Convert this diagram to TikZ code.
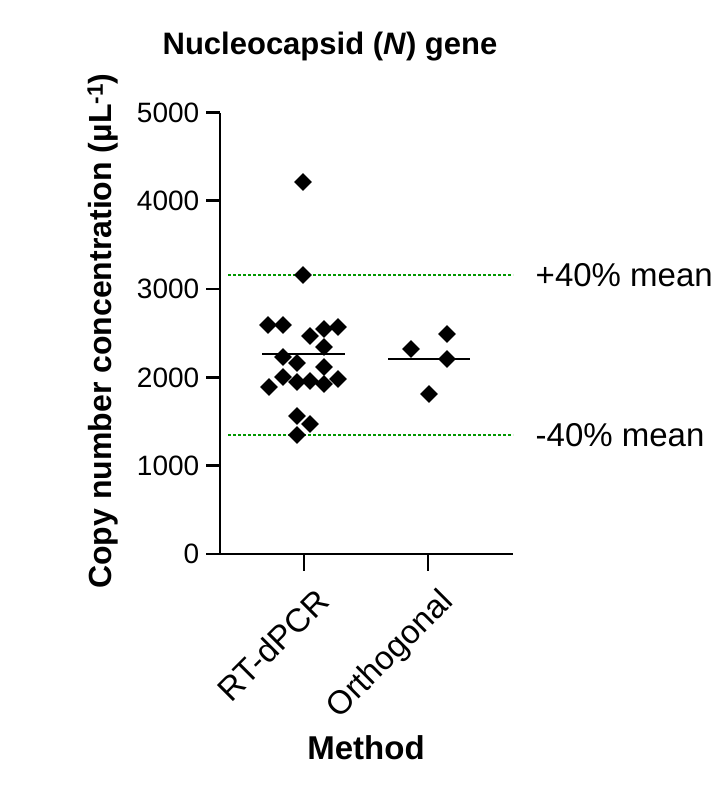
\documentclass[tikz,border=0pt]{standalone}
\usepackage{fontspec}
\setmainfont{Liberation Sans}
\usetikzlibrary{shapes.geometric}
\tikzset{
  pt/.style={diamond, fill=black, inner sep=0pt, minimum size=19pt},
  guide/.style={draw=green!60!black, dash pattern=on 2.5pt off 2.5pt, line width=1.8pt},
  ticklab/.style={anchor=east, font=\fontsize{28}{30}\selectfont},
  catlab/.style={anchor=north east, rotate=45, font=\fontsize{33}{36}\selectfont},
  biglab/.style={font=\fontsize{33}{36}\selectfont},
}
\begin{document}
\begin{tikzpicture}[x=1pt, y=-1pt, line width=2.8pt]
  \useasboundingbox (0,0) rectangle (727,794);
  % Title and axis labels
  \node[font=\bfseries\fontsize{31}{34}\selectfont] (title) at (330,47) {Nucleocapsid (\textit{N}) gene};
  \node[rotate=90, font=\bfseries\fontsize{32}{34}\selectfont] (ylab) at (103,331) {Copy number concentration (µL\textsuperscript{-1})};
  \node[font=\bfseries\fontsize{33}{36}\selectfont] (xlab) at (366,748) {Method};

  % Guide lines
  \coordinate (hiA) at (228,275); \coordinate (hiB) at (513,275);
  \coordinate (loA) at (228,435); \coordinate (loB) at (513,435);
  \draw[guide] (hiA) -- (hiB);
  \draw[guide] (loA) -- (loB);
  \node[anchor=west, biglab] (hilab) at (531,275) {+40\% mean};
  \node[anchor=west, biglab] (lolab) at (531,435) {-40\% mean};

  % Axes
  \coordinate (org) at (220,554);
  \coordinate (top) at (220,113);
  \coordinate (xend) at (513,554);
  \draw (top) -- (org) -- (xend);
  \foreach \v in {0,1000,...,5000} {
    \draw (220,554-0.0883*\v) -- (206,554-0.0883*\v);
    \node[ticklab] at (204,554-0.0883*\v) {\v};
  }
  \foreach \x/\name in {304/RT-dPCR, 428/Orthogonal} {
    \draw (\x,554) -- (\x,571);
    \node[catlab] at (\x+10,580) {\name};
  }

  % Data points
  \foreach \x/\y in {303/182, 303/275, 268/325, 283/325, 310/336, 324/329, 338/327,
    324/347, 283/357, 297/363, 324/367, 283/377, 269/387, 297/382, 310/381, 324/384,
    338/379, 297/416, 310/424, 297/435, 411/349, 447/334, 447/359, 429/394}
    \node[pt] at (\x,\y) {};

  % Means
  \draw (262,354) -- (345,354);
  \draw (388,359) -- (470,359);
\end{tikzpicture}
\end{document}
